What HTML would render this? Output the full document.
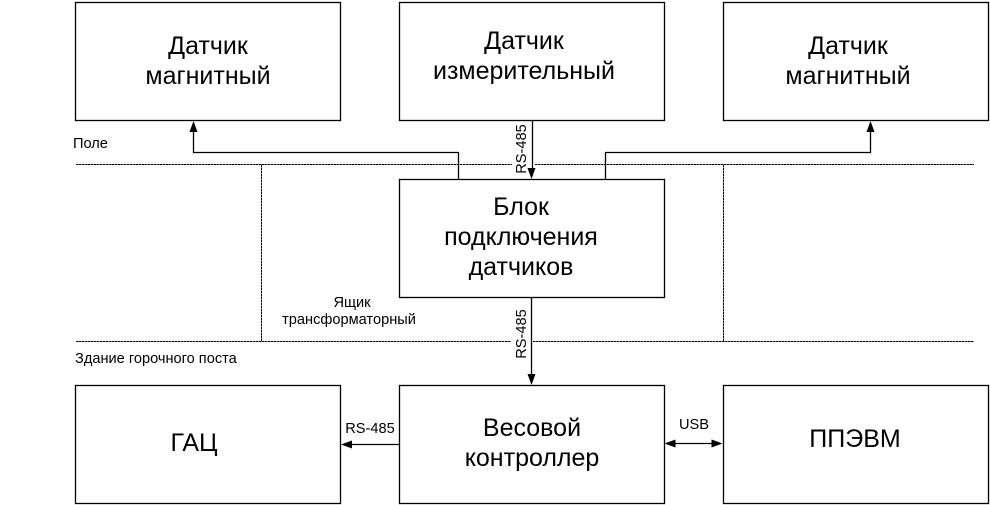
<!DOCTYPE html>
<html lang="ru">
<head>
<meta charset="utf-8">
<title>Diagram</title>
<style>
html,body{margin:0;padding:0;background:#fff;width:990px;height:505px;overflow:hidden}
svg{display:block}
text{font-family:"Liberation Sans",sans-serif;fill:#000}
.b{font-size:25px;text-anchor:middle}
.s{font-size:14.6px}
.m{font-size:14.6px;text-anchor:middle}
</style>
</head>
<body>
<svg width="990" height="505" viewBox="0 0 990 505" xmlns="http://www.w3.org/2000/svg">
<g fill="none" stroke="#000">
<path d="M76 164.5H512M535 164.5H974M76 341.5H511M533 341.5H974M261.5 165V341M723.5 165V341" stroke-dasharray="2.5 0.5" stroke-width="1"/>
</g>
<g fill="#fff" stroke="#000" stroke-width="1.3">
<rect x="75.5" y="2.5" width="265" height="118"/>
<rect x="399.5" y="2.5" width="265" height="118"/>
<rect x="723.5" y="2.5" width="265" height="118"/>
<rect x="399.5" y="179.5" width="265" height="118"/>
<rect x="75.5" y="385.5" width="265" height="118"/>
<rect x="399.5" y="385.5" width="265" height="118"/>
<rect x="723.5" y="385.5" width="265" height="118"/>
</g>
<g fill="none" stroke="#000" stroke-width="1.3">
<path d="M458.5 179V152.5H193.5V128"/>
<path d="M605.5 179V152.5H870.5V128"/>
<path d="M532.5 121V172"/>
<path d="M531.5 298V378"/>
<path d="M399 444.5H348"/>
<path d="M671 443.5H716"/>
</g>
<g fill="#000">
<path d="M193.5 121L189.5 132H197.5Z"/>
<path d="M870.5 121L866.5 132H874.5Z"/>
<path d="M531.5 179L527.5 168H535.5Z"/>
<path d="M531.5 385L527.5 374H535.5Z"/>
<path d="M341 444.5L352 440.5V448.5Z"/>
<path d="M664.5 443.5L675.5 439.5V447.5Z"/>
<path d="M722.5 443.5L711.5 439.5V447.5Z"/>
</g>
<text class="b" x="208" y="54">Датчик</text>
<text class="b" x="208" y="84">магнитный</text>
<text class="b" x="524" y="49">Датчик</text>
<text class="b" x="524" y="79">измерительный</text>
<text class="b" x="848" y="54">Датчик</text>
<text class="b" x="848" y="84">магнитный</text>
<text class="b" x="521" y="215">Блок</text>
<text class="b" x="521" y="245">подключения</text>
<text class="b" x="521" y="275">датчиков</text>
<text class="b" x="194" y="451">ГАЦ</text>
<text class="b" x="532" y="436">Весовой</text>
<text class="b" x="532" y="466">контроллер</text>
<text class="b" x="855" y="447">ППЭВМ</text>
<text class="s" x="73" y="148">Поле</text>
<text class="m" x="352" y="307">Ящик</text>
<text class="m" x="349" y="324">трансформаторный</text>
<text class="s" x="75" y="363">Здание горочного поста</text>
<text class="m" x="370" y="433">RS-485</text>
<text class="m" x="694" y="429">USB</text>
<text class="m" transform="translate(526 149) rotate(-90)">RS-485</text>
<text class="m" transform="translate(526 334) rotate(-90)">RS-485</text>
</svg>
</body>
</html>
